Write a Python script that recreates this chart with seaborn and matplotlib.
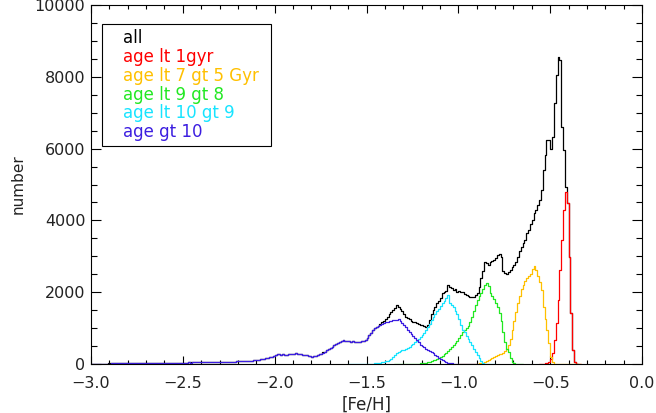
import numpy as np
import pandas as pd
import matplotlib
matplotlib.use("Agg")
import matplotlib.pyplot as plt
import seaborn as sns
from matplotlib.ticker import MultipleLocator

# histogram bins are 0.01 dex wide; each series lists counts from its first bin edge
bin_width = 0.01

all_start = -3.00
all_counts = [
    5, 7, 9, 10, 11, 11, 12, 13, 13, 14,
    14, 15, 15, 16, 17, 16, 18, 17, 19, 18,
    20, 19, 21, 22, 21, 23, 22, 24, 25, 24,
    26, 25, 27, 28, 27, 29, 30, 29, 31, 32,
    31, 33, 34, 33, 35, 36, 35, 37, 38, 39,
    38, 40, 41, 43, 42, 44, 45, 44, 46, 48,
    47, 49, 51, 50, 53, 52, 54, 56, 55, 58,
    59, 58, 61, 63, 62, 65, 67, 69, 68, 71,
    73, 76, 78, 81, 85, 88, 91, 96, 101, 106,
    111, 119, 127, 136, 146, 159, 171, 186, 201, 216,
    262, 272, 267, 257, 272, 264, 260, 274, 270, 282,
    287, 302, 292, 277, 267, 260, 252, 242, 227, 212,
    207, 217, 232, 247, 267, 292, 322, 347, 382, 412,
    442, 482, 522, 562, 592, 612, 642, 662, 652, 642,
    632, 622, 637, 617, 607, 612, 622, 632, 642, 682,
    722, 802, 872, 942, 995, 1030, 1070, 1110, 1180, 1210,
    1260, 1300, 1380, 1440, 1500, 1560, 1640, 1600, 1540, 1480,
    1400, 1320, 1270, 1240, 1200, 1180, 1160, 1140, 1120, 1100,
    1080, 1060, 1020, 1100, 1230, 1380, 1500, 1580, 1700, 1760,
    1850, 1970, 2000, 2030, 2200, 2150, 2110, 2060, 2100, 2010,
    2040, 2000, 2010, 1960, 1920, 1900, 1870, 1860, 1870, 1920,
    1970, 2150, 2390, 2600, 2850, 2800, 2750, 2850, 2880, 2900,
    2950, 3040, 3060, 2990, 2600, 2540, 2520, 2560, 2620, 2700,
    2750, 2850, 2990, 3150, 3270, 3380, 3450, 3640, 3730, 3900,
    4010, 4200, 4290, 4430, 4570, 4850, 5400, 5820, 6240, 6240,
    6000, 6330, 7260, 8050, 8560, 8470, 6610, 5960, 4940, 4480,
    2990, 1410, 390, 50, 0,
]

lt1_start = -0.56
lt1_counts = [
    0, 3, 8, 20, 40, 60,
    150, 300, 670, 1130, 1780, 2620, 3450, 4290, 4800, 4480,
    2990, 1410, 390, 50, 0, 0, 0,
]

lt7gt5_start = -1.00
lt7gt5_counts = [
    0, 0, 1, 1, 2, 3, 4, 5, 7, 9,
    12, 16, 22, 30, 45, 70, 100, 130, 160, 190,
    220, 250, 270, 290, 320, 360, 420, 520, 700, 950,
    1200, 1450, 1700, 1900, 2100, 2200, 2300, 2400, 2450, 2500,
    2640, 2720, 2620, 2450, 2290, 2060, 1600, 1250, 950, 575,
    200, 50, 10, 3, 0, 0, 0, 0, 0, 0,
    0, 0, 0, 0, 0, 0, 0,
]

lt9gt8_start = -1.35
lt9gt8_counts = [
    0, 0, 1, 1, 2, 2, 3, 4, 5, 6, 7, 9, 11, 13, 16,
    20, 25, 35, 45, 60, 80, 100, 120, 145, 170,
    190, 220, 270, 320, 370, 410, 460, 520, 580, 640,
    720, 820, 900, 960, 1000, 1060, 1180, 1320, 1480, 1640,
    1780, 1900, 1980, 2100, 2200, 2260, 2180, 1980, 1900, 1800,
    1700, 1600, 1420, 1200, 900, 600, 420, 340, 160, 60,
    15, 5, 2, 0, 0,
]

lt10gt9_start = -1.60
lt10gt9_counts = [
    0, 0, 0, 1, 1, 2, 2, 3, 4, 5,
    6, 8, 10, 12, 15, 20, 25, 32, 42, 55,
    70, 90, 110, 150, 200, 260, 300, 330, 370, 390,
    400, 420, 440, 470, 520, 570, 610, 650, 700, 760,
    800, 850, 940, 1030, 1120, 1220, 1320, 1400, 1480, 1540,
    1620, 1690, 1760, 1840, 1920, 1700, 1640, 1580, 1480, 1400,
    1240, 1080, 960, 880, 780, 700, 620, 520, 420, 340,
    260, 160, 80, 30, 10, 3, 0, 0, 0, 0,
]

gt10_start = -3.00
gt10_counts = [
    4, 6, 8, 9, 10, 10, 11, 12, 12, 13,
    13, 14, 14, 15, 16, 15, 17, 16, 18, 17,
    19, 18, 20, 21, 20, 22, 21, 23, 24, 23,
    25, 24, 26, 27, 26, 28, 29, 28, 30, 31,
    30, 32, 33, 32, 34, 35, 34, 36, 37, 38,
    37, 39, 40, 42, 41, 43, 44, 43, 45, 47,
    46, 48, 50, 49, 52, 51, 53, 55, 54, 57,
    58, 57, 60, 62, 61, 64, 66, 68, 67, 70,
    72, 75, 77, 80, 84, 87, 90, 95, 100, 105,
    110, 118, 126, 135, 145, 158, 170, 185, 200, 215,
    260, 270, 265, 255, 270, 262, 258, 272, 268, 280,
    285, 300, 290, 275, 265, 258, 250, 240, 225, 210,
    205, 215, 230, 245, 265, 290, 320, 345, 380, 410,
    440, 480, 520, 560, 590, 610, 640, 660, 650, 640,
    630, 620, 635, 615, 605, 610, 620, 630, 640, 680,
    720, 800, 870, 940, 990, 1020, 1060, 1090, 1120, 1150,
    1170, 1180, 1190, 1210, 1220, 1230, 1230, 1240, 1200, 1140,
    1080, 1020, 960, 900, 840, 780, 720, 670, 600, 540,
    490, 460, 420, 380, 350, 330, 300, 260, 220, 180,
    140, 110, 80, 55, 35, 22, 14, 9, 6, 4,
    3, 2, 1, 1, 0, 0, 0, 0, 0, 0,
]

series = [
    ("all", all_start, all_counts, "black"),
    ("age lt 1gyr", lt1_start, lt1_counts, "#ff0000"),
    ("age lt 7 gt 5 Gyr", lt7gt5_start, lt7gt5_counts, "#ffc000"),
    ("age lt 9 gt 8", lt9gt8_start, lt9gt8_counts, "#22e822"),
    ("age lt 10 gt 9", lt10gt9_start, lt10gt9_counts, "#18e4ff"),
    ("age gt 10", gt10_start, gt10_counts, "#3c1ee0"),
]

sns.set_style("ticks")
plt.rcParams["font.family"] = ["DejaVu Sans"]

fig = plt.figure(figsize=(6.56, 4.13), dpi=100)
ax = fig.add_axes([91 / 656, 49 / 413, 551 / 656, 359 / 413])

for label, start, counts, color in series:
    edges = np.round(start + bin_width * np.arange(len(counts) + 1), 2)
    df = pd.DataFrame({"feh": edges[:-1] + bin_width / 2, "n": counts})
    sns.histplot(data=df, x="feh", weights="n", bins=edges.tolist(), element="step",
                 fill=False, color=color, linewidth=0.9, label=label, ax=ax)

ax.set_xlim(-3.0, 0.0)
ax.set_ylim(0, 10000)
ax.xaxis.set_major_locator(MultipleLocator(0.5))
ax.xaxis.set_minor_locator(MultipleLocator(0.1))
ax.yaxis.set_major_locator(MultipleLocator(2000))
ax.yaxis.set_minor_locator(MultipleLocator(500))

ax.tick_params(which="both", direction="in", top=True, right=True,
               width=0.8, color="black", labelsize=11.5, labelcolor="#222222")
ax.tick_params(axis="x", which="major", length=5.5, pad=8.5)
ax.tick_params(axis="x", which="minor", length=3)
ax.tick_params(axis="y", which="major", length=7.5, pad=4)
ax.tick_params(axis="y", which="minor", length=4)
for sp in ax.spines.values():
    sp.set_linewidth(0.8)
    sp.set_color("black")

ax.set_xlabel("[Fe/H]", fontsize=12, color="#222222")
ax.set_ylabel("number", fontsize=11, color="#222222")
ax.xaxis.set_label_coords(0.5, -0.088)
ax.yaxis.set_label_coords(-0.118, 0.5)

leg = ax.legend(loc="upper left", bbox_to_anchor=(0.02, 0.607, 0.307, 0.34),
                mode="expand", handlelength=0, handletextpad=0.95,
                labelcolor="linecolor", fancybox=False, edgecolor="black",
                framealpha=1, borderpad=0.3, labelspacing=0.05, fontsize=12,
                borderaxespad=0)
leg.get_frame().set_linewidth(0.8)

fig.savefig("out.png", dpi=100)
